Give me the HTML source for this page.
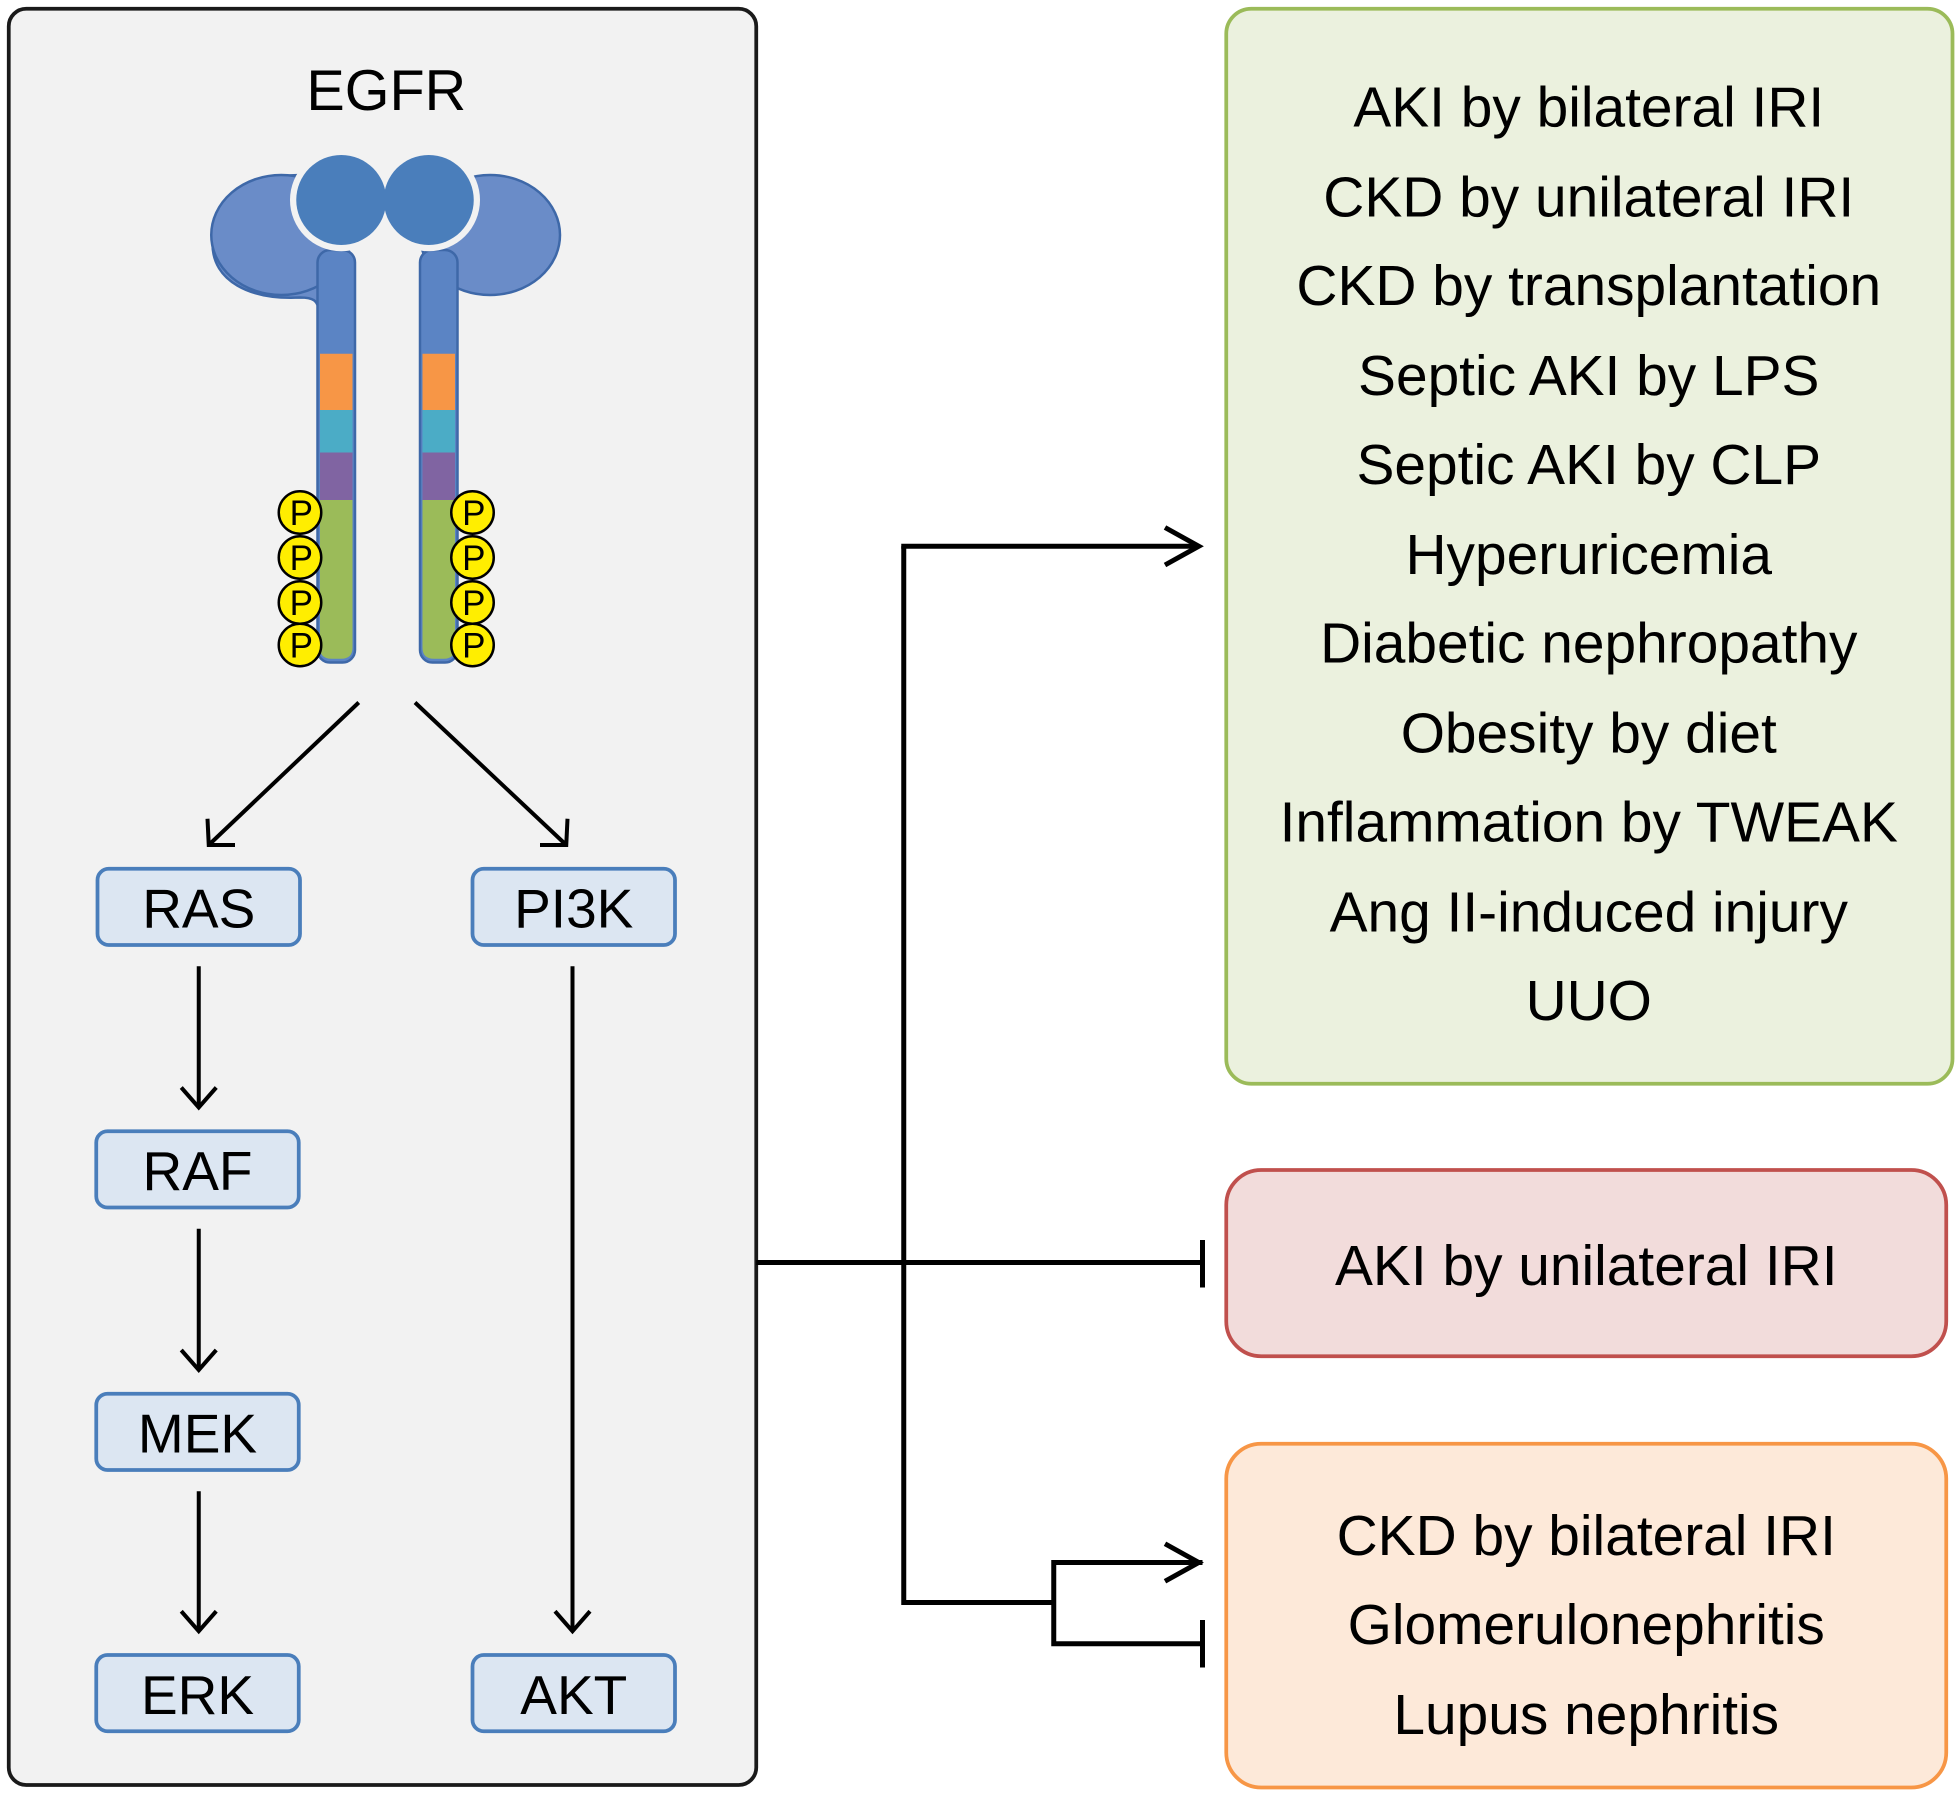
<!DOCTYPE html>
<html><head><meta charset="utf-8"><style>
html,body{margin:0;padding:0;background:#fff}
svg{display:block}
text{font-family:"Liberation Sans",Arial,sans-serif;fill:#000}
</style></head><body>
<svg width="1960" height="1795" viewBox="0 0 1568 1436" xmlns="http://www.w3.org/2000/svg">
<!-- left panel -->
<rect x="7" y="7" width="598" height="1421" rx="14" fill="#f2f2f2" stroke="#1a1a1a" stroke-width="3"/>
<text x="309" y="88" font-size="46" text-anchor="middle">EGFR</text>

<!-- receptor left -->
<g>
<path d="M240,140 C200,140 170,165 170,195 C170,225 200,240 240,238 C250,238 255,240 255,250 L283,250 L283,225 C275,215 262,210 250,200 Z" fill="#6a8cc8" stroke="#3e68a8" stroke-width="2"/>
<ellipse cx="225" cy="188" rx="56" ry="48" fill="#6a8cc8" stroke="#3e68a8" stroke-width="2"/>
<rect x="254" y="200" width="30" height="330" rx="10" fill="#5b84c4" stroke="#3e68a8" stroke-width="2"/>
<rect x="256" y="283" width="26" height="45" fill="#f79646"/>
<rect x="256" y="328" width="26" height="34" fill="#4bacc6"/>
<rect x="256" y="362" width="26" height="38" fill="#8064a2"/>
<path d="M256,400 H282 V518 Q282,527 273,527 H265 Q256,527 256,518 Z" fill="#9bbb59"/>
</g>
<g>
<ellipse cx="392" cy="188" rx="56" ry="48" fill="#6a8cc8" stroke="#3e68a8" stroke-width="2"/>
<rect x="336" y="200" width="30" height="330" rx="10" fill="#5b84c4" stroke="#3e68a8" stroke-width="2"/>
<rect x="338" y="283" width="26" height="45" fill="#f79646"/>
<rect x="338" y="328" width="26" height="34" fill="#4bacc6"/>
<rect x="338" y="362" width="26" height="38" fill="#8064a2"/>
<path d="M338,400 H364 V518 Q364,527 355,527 H347 Q338,527 338,518 Z" fill="#9bbb59"/>
</g>
<circle cx="273" cy="160" r="41" fill="#f2f2f2"/>
<circle cx="343" cy="160" r="41" fill="#f2f2f2"/>
<circle cx="273" cy="160" r="36" fill="#4a7ebb"/>
<circle cx="343" cy="160" r="36" fill="#4a7ebb"/>
<g fill="#ffee00" stroke="#000" stroke-width="2">
<circle cx="240" cy="410" r="17"/><circle cx="240" cy="446" r="17"/><circle cx="240" cy="482" r="17"/><circle cx="240" cy="516" r="17"/>
<circle cx="378" cy="410" r="17"/><circle cx="378" cy="446" r="17"/><circle cx="378" cy="482" r="17"/><circle cx="378" cy="516" r="17"/>
</g>
<g font-size="28" text-anchor="middle">
<text x="241" y="420">P</text><text x="241" y="456">P</text><text x="241" y="492">P</text><text x="241" y="526">P</text>
<text x="379" y="420">P</text><text x="379" y="456">P</text><text x="379" y="492">P</text><text x="379" y="526">P</text>
</g>

<!-- internal arrows -->
<g stroke="#000" stroke-width="3.2" fill="none">
<line x1="287" y1="562" x2="167" y2="676"/><polyline points="166,655 167,676 188,676"/>
<line x1="332" y1="562" x2="453" y2="676"/><polyline points="454,655 453,676 432,676"/>
<line x1="159" y1="773" x2="159" y2="886"/><polyline points="145,870 159,886 173,870"/>
<line x1="159" y1="983" x2="159" y2="1096"/><polyline points="145,1080 159,1096 173,1080"/>
<line x1="159" y1="1193" x2="159" y2="1305"/><polyline points="145,1289 159,1305 173,1289"/>
<line x1="458" y1="773" x2="458" y2="1305"/><polyline points="444,1289 458,1305 472,1289"/>
</g>

<!-- boxes -->
<g fill="#dce6f2" stroke="#4a7ebb" stroke-width="3">
<rect x="78" y="695" width="162" height="61" rx="9"/>
<rect x="378" y="695" width="162" height="61" rx="9"/>
<rect x="77" y="905" width="162" height="61" rx="9"/>
<rect x="77" y="1115" width="162" height="61" rx="9"/>
<rect x="77" y="1324" width="162" height="61" rx="9"/>
<rect x="378" y="1324" width="162" height="61" rx="9"/>
</g>
<g font-size="44" text-anchor="middle">
<text x="159" y="742">RAS</text>
<text x="459" y="742">PI3K</text>
<text x="158" y="952">RAF</text>
<text x="158" y="1162">MEK</text>
<text x="158" y="1371">ERK</text>
<text x="459" y="1371">AKT</text>
</g>

<!-- connectors -->
<g stroke="#000" stroke-width="4" fill="none">
<line x1="605" y1="1010" x2="962" y2="1010"/>
<line x1="962" y1="992" x2="962" y2="1030"/>
<polyline points="723,437 723,1282 843,1282"/>
<line x1="721" y1="437" x2="958" y2="437"/>
<polyline points="932,422 959,437 932,452"/>
<polyline points="962,1250 843,1250 843,1315 962,1315"/>
<polyline points="932,1235 959,1250 932,1265"/>
<line x1="962" y1="1296" x2="962" y2="1334"/>
</g>

<!-- right boxes -->
<rect x="981" y="7" width="581" height="860" rx="20" fill="#ebf1de" stroke="#9bbb59" stroke-width="3"/>
<g font-size="45.5" text-anchor="middle">
<text x="1271" y="101">AKI by bilateral IRI</text>
<text x="1271" y="173">CKD by unilateral IRI</text>
<text x="1271" y="244">CKD by transplantation</text>
<text x="1271" y="316">Septic AKI by LPS</text>
<text x="1271" y="387">Septic AKI by CLP</text>
<text x="1271" y="459">Hyperuricemia</text>
<text x="1271" y="530">Diabetic nephropathy</text>
<text x="1271" y="602">Obesity by diet</text>
<text x="1271" y="673">Inflammation by TWEAK</text>
<text x="1271" y="745">Ang II-induced injury</text>
<text x="1271" y="816">UUO</text>
</g>
<rect x="981" y="936" width="576" height="149" rx="28" fill="#f2dcdb" stroke="#c0504d" stroke-width="3"/>
<text x="1269" y="1028" font-size="45.5" text-anchor="middle">AKI by unilateral IRI</text>
<rect x="981" y="1155" width="576" height="275" rx="28" fill="#fde9d9" stroke="#f79646" stroke-width="3"/>
<g font-size="45.5" text-anchor="middle">
<text x="1269" y="1244">CKD by bilateral IRI</text>
<text x="1269" y="1315">Glomerulonephritis</text>
<text x="1269" y="1387">Lupus nephritis</text>
</g>
</svg>
</body></html>
